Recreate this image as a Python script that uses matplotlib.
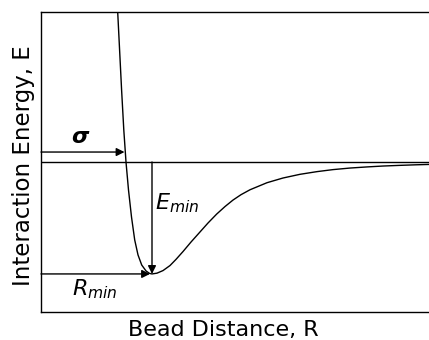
import numpy as np
import matplotlib
matplotlib.use('Agg')
from matplotlib import pyplot as plt

# curve (R in arbitrary units, E scaled so E_min = -1)
r_vals = [0.756, 0.767, 0.786, 0.806, 0.828, 0.85, 0.875, 0.905, 0.937,
          0.97, 1.007, 1.05, 1.085, 1.11, 1.16, 1.22, 1.29, 1.35, 1.42,
          1.50, 1.59, 1.67, 1.757, 1.84, 1.92, 2.00, 2.09, 2.26, 2.42,
          2.59, 2.76, 2.92, 3.09, 3.26, 3.42, 3.59, 3.75, 3.91]
e_vals = [1.536, 1.339, 1.0, 0.643, 0.286, 0.0, -0.25, -0.491, -0.696,
          -0.830, -0.920, -0.973, -0.995, -1.0, -0.993, -0.970, -0.925,
          -0.870, -0.800, -0.715, -0.625, -0.545, -0.465, -0.398, -0.340,
          -0.292, -0.248, -0.185, -0.143, -0.110, -0.086, -0.068, -0.054,
          -0.044, -0.036, -0.030, -0.025, -0.021]

sigma = 0.835      # where the sigma arrow ends
sigma_y = 0.089    # height of the sigma arrow
r_min = 1.11
e_min = -1.0

fig = plt.figure(figsize=(4.29, 3.4), dpi=100)
ax = fig.add_axes([41/429, 28/340, 391/429, 300/340])

ax.plot(r_vals, e_vals, color='black', lw=1.0)
ax.axhline(0, color='black', lw=1.0)

arrow = dict(arrowstyle='-|>', color='black', lw=1.0,
             mutation_scale=12, shrinkA=0, shrinkB=0)
# sigma
ax.annotate('', xy=(sigma, sigma_y), xytext=(0, sigma_y), arrowprops=arrow)
ax.text(0.39, 0.225, 'σ', fontsize=16, fontweight='bold',
        fontstyle='italic', ha='center', va='center')
# E_min
ax.annotate('', xy=(r_min, e_min), xytext=(r_min, 0), arrowprops=arrow)
ax.text(1.14, -0.37, r'$E_{min}$', fontsize=16, ha='left', va='center')
# R_min
ax.annotate('', xy=(r_min - 0.02, e_min), xytext=(0, e_min),
            arrowprops=arrow)
ax.text(0.54, -1.14, r'$R_{min}$', fontsize=16, ha='center', va='center')

ax.set_xlim(0, 3.91)
ax.set_ylim(-1.34, 1.34)
ax.set_xticks([])
ax.set_yticks([])
for s in ax.spines.values():
    s.set_linewidth(1.0)

ax.set_xlabel('Bead Distance, R', fontsize=16)
ax.set_ylabel('Interaction Energy, E', fontsize=16.5)
ax.xaxis.set_label_coords(0.465, -0.08, transform=ax.transAxes)
ax.xaxis.label.set_va('baseline')
ax.yaxis.set_label_coords(-0.015, 0.487, transform=ax.transAxes)

fig.savefig('out.png', dpi=100)
